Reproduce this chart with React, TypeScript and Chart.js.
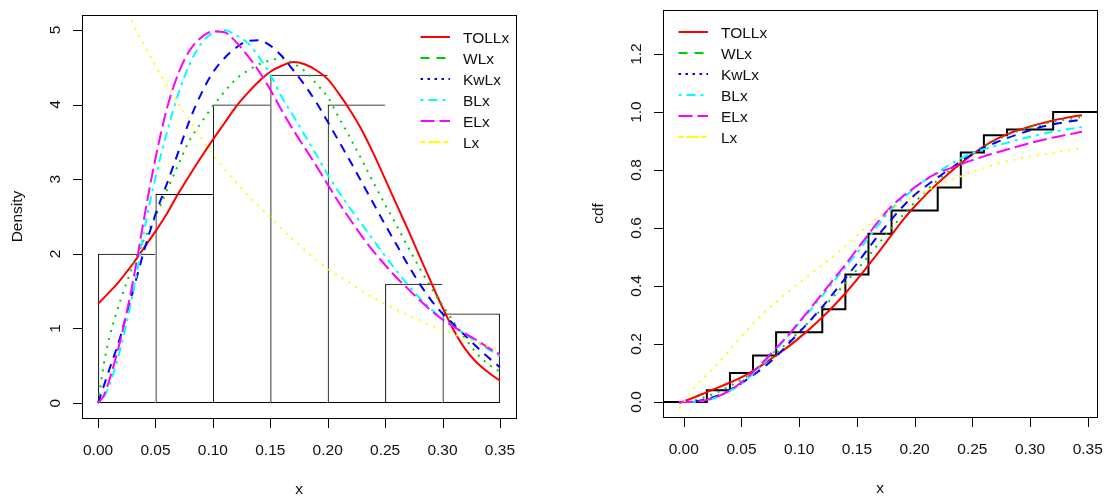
import React, { useEffect, useRef } from "react";
import { Chart, registerables } from "chart.js";

Chart.register(...registerables);

// ---------------- data ----------------
const SERIES_NAMES = ["TOLLx", "WLx", "KwLx", "BLx", "ELx", "Lx"];

// histogram (density scale)
const BIN_CENTERS = [0.025, 0.075, 0.125, 0.175, 0.225, 0.275, 0.325];
const HIST_DENSITY = [2.0, 2.8, 4.0, 4.4, 4.0, 1.6, 1.2];

// fitted densities
const DENS_X = [
  0, 0.005, 0.01, 0.015, 0.02, 0.025, 0.03, 0.035, 0.04, 0.05, 0.06, 0.07, 0.08, 0.09,
  0.1, 0.11, 0.12, 0.13, 0.14, 0.15, 0.16, 0.17, 0.18, 0.19, 0.2, 0.21, 0.22, 0.23,
  0.24, 0.25, 0.26, 0.27, 0.28, 0.29, 0.3, 0.31, 0.32, 0.33, 0.34, 0.35,
];
const TOLL_DENS = [
  1.33, 1.41, 1.49, 1.57, 1.66, 1.76, 1.86, 1.97, 2.08, 2.3, 2.54, 2.81, 3.06, 3.3,
  3.53, 3.75, 3.97, 4.15, 4.31, 4.44, 4.52, 4.57, 4.54, 4.46, 4.34, 4.14, 3.91, 3.65,
  3.34, 3.0, 2.66, 2.32, 1.97, 1.62, 1.28, 0.97, 0.72, 0.54, 0.41, 0.3,
];
const WL_DENS = [
  0, 0.52, 0.89, 1.16, 1.4, 1.62, 1.83, 2.02, 2.19, 2.5, 2.85, 3.2, 3.53, 3.76,
  3.98, 4.17, 4.34, 4.45, 4.54, 4.59, 4.62, 4.55, 4.45, 4.28, 4.1, 3.82, 3.54, 3.25,
  2.95, 2.66, 2.38, 2.09, 1.81, 1.55, 1.31, 1.08, 0.86, 0.66, 0.52, 0.42,
];
const KWL_DENS = [
  0, 0.23, 0.46, 0.68, 0.92, 1.2, 1.48, 1.76, 2.04, 2.53, 2.94, 3.37, 3.8, 4.15,
  4.43, 4.62, 4.76, 4.85, 4.86, 4.79, 4.65, 4.46, 4.26, 4.03, 3.77, 3.5, 3.23, 2.95,
  2.67, 2.39, 2.12, 1.85, 1.6, 1.38, 1.2, 1.05, 0.9, 0.75, 0.61, 0.48,
];
const BL_DENS = [
  0, 0.08, 0.25, 0.48, 0.76, 1.08, 1.45, 1.85, 2.3, 3.02, 3.63, 4.15, 4.55, 4.82,
  4.96, 5.0, 4.93, 4.83, 4.64, 4.4, 4.1, 3.85, 3.59, 3.33, 3.06, 2.82, 2.6, 2.39,
  2.18, 1.97, 1.77, 1.58, 1.41, 1.26, 1.13, 1.02, 0.92, 0.82, 0.72, 0.63,
];
const EL_DENS = [
  0, 0.1, 0.32, 0.58, 0.88, 1.22, 1.6, 2.02, 2.47, 3.28, 3.95, 4.42, 4.73, 4.9,
  4.98, 4.97, 4.84, 4.66, 4.45, 4.2, 3.92, 3.66, 3.42, 3.18, 2.93, 2.68, 2.45, 2.23,
  2.03, 1.85, 1.68, 1.53, 1.38, 1.24, 1.12, 1.02, 0.93, 0.84, 0.74, 0.65,
];
const L_DENS = [
  6.1, 5.92, 5.75, 5.58, 5.42, 5.26, 5.1, 4.94, 4.8, 4.52, 4.26, 4.01, 3.78, 3.55,
  3.33, 3.14, 2.96, 2.79, 2.64, 2.49, 2.33, 2.19, 2.05, 1.92, 1.8, 1.7, 1.6, 1.5,
  1.41, 1.33, 1.25, 1.18, 1.11, 1.04, 0.98, 0.92, 0.86, 0.81, 0.76, 0.71,
];

// empirical cdf
const ECDF_X = [-0.02, 0.02, 0.04, 0.06, 0.08, 0.12, 0.14, 0.16, 0.18, 0.22, 0.24, 0.26, 0.28, 0.32, 0.36];
const ECDF_Y = [0, 0.04, 0.1, 0.16, 0.24, 0.32, 0.44, 0.58, 0.66, 0.74, 0.86, 0.92, 0.94, 1.0, 1.0];

// fitted cdfs
const CDF_X = [
  -0.004, 0, 0.01, 0.02, 0.03, 0.04, 0.05, 0.06, 0.07, 0.08, 0.09, 0.1, 0.11, 0.12,
  0.13, 0.14, 0.15, 0.16, 0.17, 0.18, 0.19, 0.2, 0.21, 0.22, 0.23, 0.24, 0.25, 0.26,
  0.27, 0.28, 0.29, 0.3, 0.31, 0.32, 0.33, 0.34, 0.345,
];
const TOLL_CDF = [
  -0.004, 0.002, 0.017, 0.034, 0.05, 0.067, 0.085, 0.107, 0.133, 0.161, 0.189, 0.221, 0.255, 0.292,
  0.332, 0.375, 0.422, 0.472, 0.523, 0.576, 0.628, 0.674, 0.716, 0.754, 0.79, 0.823, 0.854, 0.882,
  0.905, 0.923, 0.938, 0.95, 0.961, 0.971, 0.979, 0.986, 0.989,
];
const WL_CDF = [
  0, 0, 0.006, 0.019, 0.035, 0.055, 0.077, 0.104, 0.134, 0.168, 0.205, 0.243, 0.282, 0.323,
  0.365, 0.41, 0.456, 0.503, 0.552, 0.6, 0.645, 0.688, 0.728, 0.765, 0.798, 0.828, 0.856, 0.881,
  0.902, 0.92, 0.935, 0.948, 0.958, 0.967, 0.974, 0.98, 0.983,
];
const KWL_CDF = [
  0, 0, 0.002, 0.01, 0.022, 0.042, 0.065, 0.092, 0.122, 0.157, 0.198, 0.24, 0.283, 0.328,
  0.377, 0.427, 0.477, 0.53, 0.582, 0.63, 0.675, 0.714, 0.745, 0.774, 0.802, 0.83, 0.854, 0.876,
  0.894, 0.91, 0.924, 0.937, 0.949, 0.958, 0.965, 0.971, 0.974,
];
const BL_CDF = [
  0, 0, 0.001, 0.006, 0.018, 0.038, 0.063, 0.097, 0.137, 0.18, 0.226, 0.272, 0.318, 0.367,
  0.416, 0.465, 0.514, 0.566, 0.618, 0.666, 0.703, 0.737, 0.767, 0.793, 0.817, 0.84, 0.858, 0.872,
  0.883, 0.894, 0.905, 0.915, 0.924, 0.932, 0.939, 0.945, 0.948,
];
const EL_CDF = [
  0, 0, 0.001, 0.007, 0.02, 0.04, 0.068, 0.103, 0.143, 0.186, 0.228, 0.276, 0.324, 0.374,
  0.424, 0.474, 0.526, 0.578, 0.63, 0.675, 0.71, 0.74, 0.768, 0.79, 0.805, 0.82, 0.834, 0.847,
  0.859, 0.871, 0.882, 0.893, 0.903, 0.912, 0.92, 0.928, 0.932,
];
const L_CDF = [
  -0.021, 0, 0.053, 0.094, 0.134, 0.18, 0.226, 0.269, 0.309, 0.345, 0.378, 0.41, 0.441, 0.473,
  0.504, 0.538, 0.574, 0.609, 0.64, 0.666, 0.689, 0.709, 0.728, 0.746, 0.762, 0.778, 0.793, 0.806,
  0.819, 0.83, 0.839, 0.847, 0.853, 0.86, 0.866, 0.872, 0.875,
];

// axis ticks
const X_TICKS = [0, 0.05, 0.1, 0.15, 0.2, 0.25, 0.3, 0.35];
const X_TICK_LABELS = ["0.00", "0.05", "0.10", "0.15", "0.20", "0.25", "0.30", "0.35"];
const DENS_Y_TICKS = [0, 1, 2, 3, 4, 5];
const DENS_Y_LABELS = ["0", "1", "2", "3", "4", "5"];
const CDF_Y_TICKS = [0, 0.2, 0.4, 0.6, 0.8, 1.0, 1.2];
const CDF_Y_LABELS = ["0.0", "0.2", "0.4", "0.6", "0.8", "1.0", "1.2"];

// ---------------- styles ----------------
const COLORS = ["#FF0000", "#00CD00", "#0000FF", "#00FFFF", "#FF00FF", "#FFFF00"];
const PLOT_DASH: number[][] = [[], [2, 6], [9, 7], [3, 5, 9, 5], [14, 5], [2, 6]];
const LEGEND_DASH: number[][] = [[], [9, 7], [2.5, 4.5], [3, 5, 9, 5], [14, 5], [5, 3, 12, 3]];
const FONT = '15.5px "Liberation Sans", Arial, Helvetica, sans-serif';
const TEXT_COLOR = "#111";

type RCfg = {
  xTicks: number[];
  xLabels: string[];
  yTicks: number[];
  yLabels: string[];
  xTitle: string;
  yTitle: string;
  legend: { x0: number; x1: number; tx: number; y0: number; step: number };
};

function makeRPlugin(cfg: RCfg) {
  return {
    id: "rbase",
    afterDraw(chart: any) {
      const ctx = chart.ctx as CanvasRenderingContext2D;
      const a = chart.chartArea;
      const xs = chart.scales.x;
      const ys = chart.scales.y;
      ctx.save();
      ctx.strokeStyle = "#000";
      ctx.lineWidth = 1;
      ctx.setLineDash([]);
      const L = Math.round(a.left) + 0.5;
      const R = Math.round(a.right) + 0.5;
      const T = Math.round(a.top) + 0.5;
      const B = Math.round(a.bottom) + 0.5;
      ctx.strokeRect(L, T, R - L, B - T);

      const xp = cfg.xTicks.map((v) => Math.round(xs.getPixelForValue(v)) + 0.5);
      const yp = cfg.yTicks.map((v) => Math.round(ys.getPixelForValue(v)) + 0.5);
      ctx.beginPath();
      ctx.moveTo(xp[0], B);
      ctx.lineTo(xp[xp.length - 1], B);
      xp.forEach((p) => {
        ctx.moveTo(p, B);
        ctx.lineTo(p, B + 9.5);
      });
      ctx.moveTo(L, yp[0]);
      ctx.lineTo(L, yp[yp.length - 1]);
      yp.forEach((p) => {
        ctx.moveTo(L, p);
        ctx.lineTo(L - 9.5, p);
      });
      ctx.stroke();

      ctx.fillStyle = TEXT_COLOR;
      ctx.font = FONT;
      ctx.textAlign = "center";
      ctx.textBaseline = "alphabetic";
      cfg.xLabels.forEach((s, i) => {
        ctx.fillText(s, xs.getPixelForValue(cfg.xTicks[i]), a.bottom + 37);
      });
      cfg.yLabels.forEach((s, i) => {
        ctx.save();
        ctx.translate(a.left - 22.3, ys.getPixelForValue(cfg.yTicks[i]));
        ctx.rotate(-Math.PI / 2);
        ctx.fillText(s, 0, 0);
        ctx.restore();
      });
      ctx.fillText(cfg.xTitle, (a.left + a.right) / 2, a.bottom + 75.5);
      ctx.save();
      ctx.translate(a.left - 60.5, (a.top + a.bottom) / 2);
      ctx.rotate(-Math.PI / 2);
      ctx.fillText(cfg.yTitle, 0, 0);
      ctx.restore();

      // legend
      const lg = cfg.legend;
      SERIES_NAMES.forEach((name, i) => {
        const y = lg.y0 + i * lg.step;
        ctx.beginPath();
        ctx.strokeStyle = COLORS[i];
        ctx.lineWidth = 2;
        ctx.setLineDash(LEGEND_DASH[i]);
        ctx.moveTo(lg.x0, y);
        ctx.lineTo(lg.x1, y);
        ctx.stroke();
        ctx.setLineDash([]);
        ctx.fillStyle = TEXT_COLOR;
        ctx.textAlign = "left";
        ctx.fillText(name, lg.tx, y + 5.5);
      });
      ctx.restore();
    },
  };
}

function curveDatasets(xv: number[], series: number[][]) {
  return series.map((vals, i) => ({
    type: "line" as const,
    label: SERIES_NAMES[i],
    data: xv.map((x, j) => ({ x, y: vals[j] })),
    borderColor: COLORS[i],
    backgroundColor: COLORS[i],
    borderWidth: 2,
    borderDash: PLOT_DASH[i],
    borderCapStyle: "butt" as const,
    borderJoinStyle: "round" as const,
    pointRadius: 0,
    fill: false,
    cubicInterpolationMode: "monotone" as const,
    clip: 0,
    order: 6 - i,
  }));
}

function baseOptions(pad: any, xmin: number, xmax: number, ymin: number, ymax: number) {
  return {
    responsive: false,
    animation: false as const,
    devicePixelRatio: 1,
    events: [] as any[],
    layout: { padding: pad },
    plugins: { legend: { display: false }, tooltip: { enabled: false } },
    scales: {
      x: { type: "linear" as const, min: xmin, max: xmax, display: false, offset: false },
      y: { type: "linear" as const, min: ymin, max: ymax, display: false },
    },
  };
}

export default function App() {
  const leftRef = useRef<HTMLCanvasElement>(null);
  const rightRef = useRef<HTMLCanvasElement>(null);

  useEffect(() => {
    document.body.style.margin = "0";
    const lastBin = BIN_CENTERS.length - 1;
    const left = new Chart(leftRef.current as HTMLCanvasElement, {
      type: "line",
      data: {
        datasets: [
          {
            type: "bar",
            label: "hist",
            data: BIN_CENTERS.map((x, i) => ({ x, y: HIST_DENSITY[i] })),
            backgroundColor: "rgba(0,0,0,0)",
            borderColor: "#000",
            borderWidth: (c: any) => ({ top: 1, left: 1, bottom: 1, right: c.dataIndex === lastBin ? 1 : 0 }),
            borderSkipped: false,
            barPercentage: 1,
            categoryPercentage: 1,
            inflateAmount: 0,
            order: 10,
          } as any,
          ...curveDatasets(DENS_X, [TOLL_DENS, WL_DENS, KWL_DENS, BL_DENS, EL_DENS, L_DENS]),
        ],
      },
      options: baseOptions({ left: 82, top: 15, right: 36, bottom: 82 }, -0.014, 0.364, -0.2, 5.2) as any,
      plugins: [
        makeRPlugin({
          xTicks: X_TICKS,
          xLabels: X_TICK_LABELS,
          yTicks: DENS_Y_TICKS,
          yLabels: DENS_Y_LABELS,
          xTitle: "x",
          yTitle: "Density",
          legend: { x0: 420.5, x1: 450, tx: 463, y0: 37, step: 21 },
        }),
      ],
    });

    const right = new Chart(rightRef.current as HTMLCanvasElement, {
      type: "line",
      data: {
        datasets: [
          {
            type: "line",
            label: "ecdf",
            data: ECDF_X.map((x, i) => ({ x, y: ECDF_Y[i] })),
            stepped: "before",
            borderColor: "#000",
            borderWidth: 2,
            pointRadius: 0,
            fill: false,
            clip: 0,
            order: 10,
          } as any,
          ...curveDatasets(CDF_X, [TOLL_CDF, WL_CDF, KWL_CDF, BL_CDF, EL_CDF, L_CDF]),
        ],
      },
      options: baseOptions({ left: 111, top: 10, right: 7, bottom: 83 }, -0.018, 0.358, -0.052, 1.352) as any,
      plugins: [
        makeRPlugin({
          xTicks: X_TICKS,
          xLabels: X_TICK_LABELS,
          yTicks: CDF_Y_TICKS,
          yLabels: CDF_Y_LABELS,
          xTitle: "x",
          yTitle: "cdf",
          legend: { x0: 126.5, x1: 156, tx: 169, y0: 32, step: 21 },
        }),
      ],
    });

    return () => {
      left.destroy();
      right.destroy();
    };
  }, []);

  return (
    <div style={{ position: "fixed", left: 0, top: 0, width: 1104, height: 500, background: "#fff" }}>
      <canvas
        ref={leftRef}
        width={552}
        height={500}
        style={{ position: "absolute", left: 0, top: 0, width: 552, height: 500 }}
      />
      <canvas
        ref={rightRef}
        width={552}
        height={500}
        style={{ position: "absolute", left: 552, top: 0, width: 552, height: 500 }}
      />
    </div>
  );
}
